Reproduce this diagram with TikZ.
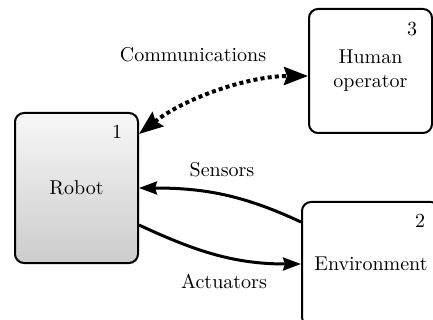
\documentclass[tikz,border=0pt]{standalone}
\usetikzlibrary{arrows.meta}
\begin{document}
\begin{tikzpicture}[x=0.5pt,y=-0.5pt,
  font=\rmfamily\fontsize{10}{12}\selectfont,
  box/.style={draw=black, line width=1pt, rounded corners=4.5pt, align=center, inner sep=0pt},
  num/.style={inner sep=0pt, anchor=center},
  lbl/.style={inner sep=0pt, anchor=center},
  flow/.style={line width=1.5pt, -{Stealth[length=9pt,width=6.5pt,inset=1pt]}},
  comm/.style={line width=2pt, dash pattern=on 2pt off 1.6pt,
    {Stealth[length=12pt,width=9pt,inset=1.5pt]}-{Stealth[length=12pt,width=9pt,inset=1.5pt]}}
]
\useasboundingbox (0,0) rectangle (433,320);
\clip (0,0) rectangle (433,320);
\node[box, minimum width=61.5pt, minimum height=75pt, top color=white!97!black, bottom color=black!20] (r) at (76.5,188) {Robot};
\node[box, minimum width=61.5pt, minimum height=62pt] (h) at (370.5,71) {Human\\operator};
\node[box, minimum width=69pt, minimum height=62pt] (e) at (371,264) {Environment};
\node[num] (n1) at (117,132) {1};
\node[num] (n3) at (412,29) {3};
\node[num] (n2) at (420,221) {2};
\node[lbl] (lc) at (193,55) {Communications};
\node[lbl] (ls) at (222,170) {Sensors};
\node[lbl] (la) at (224,281) {Actuators};
\draw[comm] ([yshift=27pt]r.east) to[out=38,in=180,looseness=0.85] ([yshift=-2.5pt]h.west);
\draw[flow] ([yshift=21pt]e.west) to[out=155,in=0] (r.east);
\draw[flow] ([yshift=-18.5pt]r.east) to[out=-25,in=180] (e.west);
\end{tikzpicture}
\end{document}
